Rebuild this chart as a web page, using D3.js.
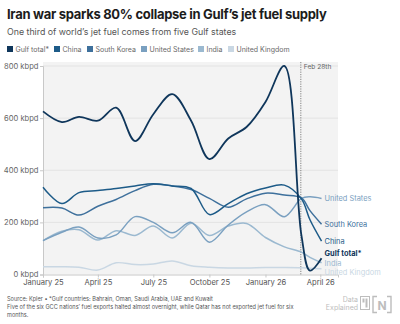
<!DOCTYPE html>
<html>
<head>
<meta charset="utf-8">
<script src="https://cdn.jsdelivr.net/npm/d3@7"></script>
<style>
  body { margin: 0; background: #fff; font-family: Inter, "Noto Sans", sans-serif; }
  svg text { font-family: Inter, "Noto Sans", sans-serif; }
</style>
</head>
<body>
<svg id="chart" width="400" height="324"></svg>
<script>
// monthly readings, plus a few extra points after the Feb 28th strike
let datas = ["2025-01-01", "2025-02-01", "2025-03-01", "2025-04-01", "2025-05-01", "2025-06-01",
  "2025-07-01", "2025-08-01", "2025-09-01", "2025-10-01", "2025-11-01", "2025-12-01",
  "2026-01-01", "2026-02-01", "2026-03-01", "2026-03-15", "2026-04-03"];

let gulf   = [626, 585, 605, 590, 640, 512, 615, 692, 590, 443, 522, 566, 662, 800, 150, 15, 62];
let china  = [335, 272, 314, 322, 330, 340, 348, 340, 330, 230, 272, 310, 332, 343, 290, 210, 128];
let coreia = [256, 255, 228, 262, 288, 322, 346, 340, 326, 292, 258, 290, 312, 305, 294, 245, 193];
let eua    = [130, 162, 182, 140, 152, 222, 200, 160, 200, 124, 190, 240, 268, 222, 292, 298, 292];
let india  = [130, 166, 172, 132, 168, 150, 186, 140, 197, 150, 186, 196, 142, 106, 86, 66, 45];
let uk     = [30, 30, 28, 17, 45, 38, 40, 52, 34, 28, 25, 25, 27, 27, 26, 24, 22];

let nomes  = ["Gulf total*", "China", "South Korea", "United States", "India", "United Kingdom"];
let cores  = ["#0f365b", "#1d5b88", "#3e709c", "#7aa0c0", "#9bb9d0", "#c9d7e3"];
let y_ticks = [0, 200, 400, 600, 800];

let parse = d3.utcParse("%Y-%m-%d");
let series = [gulf, china, coreia, eua, india, uk].map((vals, i) => ({
  nome: nomes[i],
  cor: cores[i],
  pontos: vals.map((v, j) => ({ data: parse(datas[j]), v: v }))
}));

let $svg = d3.select("#chart");
let m = { left: 43, right: 338, top: 66, bottom: 274.5 };

let x = d3.scaleUtc()
  .domain([parse("2025-01-01"), parse("2026-04-30")])
  .range([m.left, m.right]);

let y = d3.scaleLinear()
  .domain([0, 800])
  .range([m.bottom, m.top]);

// titulo e subtitulo
$svg.append("text")
  .attr("x", 7).attr("y", 19)
  .attr("font-size", 13).attr("font-weight", 700)
  .attr("fill", "#1c1c1c")
  .attr("letter-spacing", -0.3)
  .text("Iran war sparks 80% collapse in Gulf’s jet fuel supply");

$svg.append("text")
  .attr("x", 7).attr("y", 35)
  .attr("font-size", 8.8).attr("fill", "#555")
  .text("One third of world’s jet fuel comes from five Gulf states");

// legenda
let leg_x = [7, 54, 87, 141, 198, 228];
let leg = $svg.selectAll("g.leg").data(series).enter()
  .append("g").classed("leg", true)
  .attr("transform", (d, i) => `translate(${leg_x[i]},46)`);
leg.append("rect").attr("width", 6).attr("height", 6).attr("fill", d => d.cor);
leg.append("text").attr("x", 8.5).attr("y", 5.6)
  .attr("font-size", 7).attr("fill", "#6a6a6a")
  .text(d => d.nome);

// fundo do grafico
$svg.append("rect")
  .attr("x", m.left).attr("y", m.top - 4)
  .attr("width", m.right - m.left).attr("height", m.bottom - m.top + 4)
  .attr("fill", "#f3f3f3");

// grade e eixo y
$svg.append("g").selectAll("line").data(y_ticks.slice(1)).enter()
  .append("line")
  .attr("x1", m.left).attr("x2", m.right)
  .attr("y1", d => y(d)).attr("y2", d => y(d))
  .attr("stroke", "#e3e3e3").attr("stroke-width", 1);

let eixo_y = $svg.append("g")
  .attr("transform", `translate(${m.left},0)`)
  .call(d3.axisLeft(y).tickValues(y_ticks).tickSize(3).tickFormat(d => d + " kbpd"));
eixo_y.select(".domain").attr("stroke", "#c8c8c8");
eixo_y.selectAll(".tick line").attr("stroke", "#c8c8c8");
eixo_y.selectAll(".tick text").attr("font-size", 7.6).attr("fill", "#666")
  .attr("font-family", "Inter, sans-serif").attr("x", -4.5);

let eixo_x = $svg.append("g")
  .attr("transform", `translate(0,${m.bottom})`)
  .call(d3.axisBottom(x)
    .tickValues(["2025-01-01", "2025-04-01", "2025-07-01", "2025-10-01", "2026-01-01", "2026-04-01"].map(parse))
    .tickSize(3)
    .tickFormat(d3.utcFormat("%B %y")));
eixo_x.select(".domain").attr("stroke", "#c8c8c8");
eixo_x.selectAll(".tick line").attr("stroke", "#c8c8c8");
eixo_x.selectAll(".tick text").attr("font-size", 7.6).attr("fill", "#555")
  .attr("font-family", "Inter, sans-serif").attr("y", 5);

// linha do dia 28 de fevereiro
let fev28 = x(parse("2026-02-28"));
$svg.append("line")
  .attr("x1", fev28).attr("x2", fev28)
  .attr("y1", m.top - 4).attr("y2", m.bottom)
  .attr("stroke", "#666").attr("stroke-width", 0.8)
  .attr("stroke-dasharray", "1.2,1.2");
$svg.append("text")
  .attr("x", fev28 + 3).attr("y", m.top + 3)
  .attr("font-size", 6.6).attr("fill", "#666")
  .text("Feb 28th");

// linhas das series (as mais claras por baixo)
let linha = d3.line()
  .x(d => x(d.data))
  .y(d => y(d.v))
  .curve(d3.curveCatmullRom.alpha(0.5));

$svg.append("g").selectAll("path").data(series.slice().reverse()).enter()
  .append("path")
  .attr("d", d => linha(d.pontos))
  .attr("fill", "none")
  .attr("stroke", d => d.cor)
  .attr("stroke-width", d => d.nome == "Gulf total*" ? 1.8 : 1.5);

// rotulos no fim das linhas; grupos que se sobrepoem sao espalhados em torno da media
let gap = 9.5;
let rotulos = series.map(s => {
  let ult = s.pontos[s.pontos.length - 1];
  return { nome: s.nome, cor: s.cor, x: x(ult.data) + 3, y0: y(ult.v) };
}).sort((a, b) => a.y0 - b.y0);
let grupos = [];
rotulos.forEach(r => {
  let g = grupos[grupos.length - 1];
  if (g && r.y0 - g[g.length - 1].y0 < gap) g.push(r);
  else grupos.push([r]);
});
grupos.forEach(g => {
  let media = d3.mean(g, r => r.y0);
  g.forEach((r, i) => r.y = media + (i - (g.length - 1) / 2) * gap);
});
$svg.append("g").selectAll("text").data(rotulos).enter()
  .append("text")
  .attr("x", d => d.x).attr("y", d => d.y).attr("dy", "0.35em")
  .attr("font-size", 7.4)
  .attr("font-weight", d => d.nome == "Gulf total*" ? 700 : 400)
  .attr("fill", d => d.cor)
  .text(d => d.nome);

// rodape
let rodape = [
  "Source: Kpler • *Gulf countries: Bahrain, Oman, Saudi Arabia, UAE and Kuwait",
  "Five of the six GCC nations’ fuel exports halted almost overnight, while Qatar has not exported jet fuel for six",
  "months."
];
$svg.append("g").selectAll("text").data(rodape).enter()
  .append("text")
  .attr("x", 7).attr("y", (d, i) => 301 + i * 8)
  .attr("font-size", 5.6).attr("fill", "#555")
  .text(d => d);

// marca "Data Explained" e logo N
let marca = $svg.append("g").attr("fill", "#bdbdbd");
marca.append("text").attr("x", 358).attr("y", 302).attr("text-anchor", "end")
  .attr("font-size", 7).text("Data");
marca.append("text").attr("x", 358).attr("y", 310).attr("text-anchor", "end")
  .attr("font-size", 7).text("Explained");
marca.append("rect").attr("x", 360.5).attr("y", 296.5).attr("width", 9).attr("height", 13)
  .attr("fill", "none").attr("stroke", "#bdbdbd").attr("stroke-width", 1);
marca.append("rect").attr("x", 362.5).attr("y", 298.5).attr("width", 2).attr("height", 4);
marca.append("rect").attr("x", 365.5).attr("y", 298.5).attr("width", 2).attr("height", 9);
marca.append("path")
  .attr("d", "M377,296.5 h-4 v16 h4 M387,296.5 h4 v16 h-4")
  .attr("fill", "none").attr("stroke", "#bdbdbd").attr("stroke-width", 1.4);
marca.append("text").attr("x", 382).attr("y", 309.5).attr("text-anchor", "middle")
  .attr("font-size", 12).attr("font-weight", 700).text("N");
</script>
</body>
</html>
